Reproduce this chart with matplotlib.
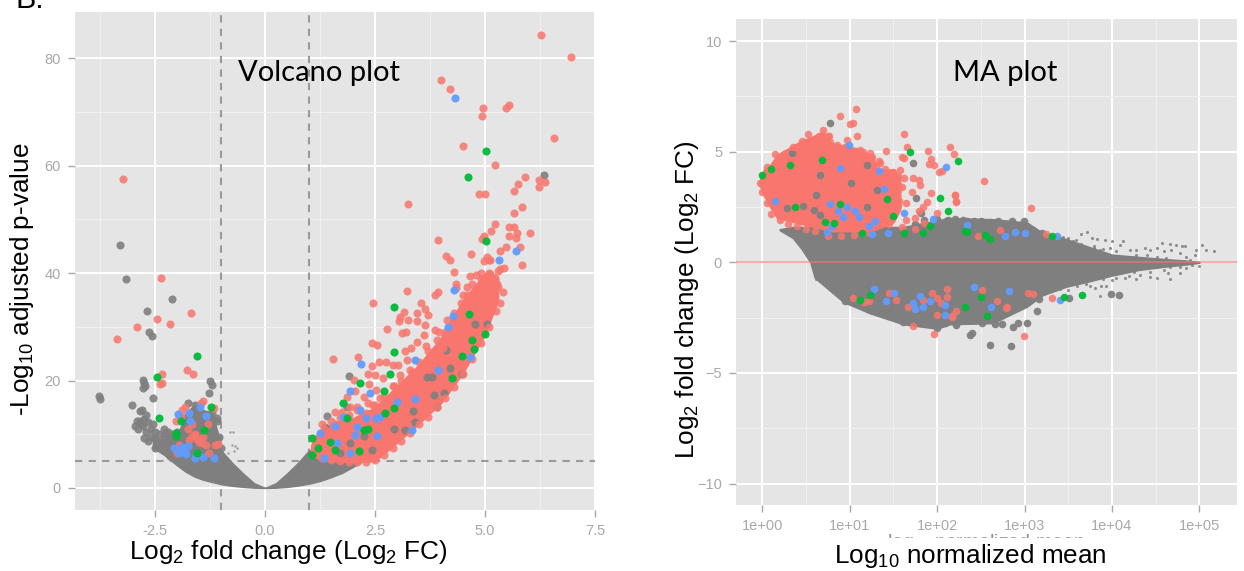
import numpy as np
import matplotlib
matplotlib.use('Agg')
import matplotlib.pyplot as plt
from matplotlib.patches import Rectangle

W, H = 1244, 571
RED = '#F8766D'
GREEN = '#00BA38'
BLUE = '#619CFF'
GREY = '#7F7F7F'
PANEL = '#E5E5E5'
TICK = '#A8A8A8'

plt.rcParams['font.family'] = ['Liberation Sans', 'DejaVu Sans']
plt.rcParams['mathtext.default'] = 'regular'

# volcano: dense clouds as (x, upper, lower)
volcano_grey_x = [-2.55, -2.3, -2.0, -1.8, -1.6, -1.4, -1.2, -1.1, -1.0, -0.75, -0.5, -0.25, 0.0, 0.25, 0.5, 0.75, 1.0, 1.25, 1.5, 1.75, 1.95, 2.2]
volcano_grey_up = [8.5, 9.0, 9.5, 14.0, 15.5, 14.5, 14.0, 11.0, 7.0, 4.7, 2.7, 0.9, 0.0, 0.9, 2.7, 4.7, 7.0, 7.5, 7.5, 7.0, 6.5, 5.5]
volcano_grey_lo = [7.5, 6.2, 4.2, 3.0, 2.1, 1.5, 1.1, 0.9, 0.7, 0.4, 0.2, 0.05, 0.0, 0.05, 0.2, 0.45, 0.8, 1.3, 2.0, 2.8, 3.7, 4.9]
volcano_red_x = [1.05, 1.2, 1.5, 2.0, 2.5, 3.0, 3.5, 4.0, 4.5, 5.0, 5.3]
volcano_red_up = [8.0, 10.5, 12.0, 13.0, 15.0, 19.0, 23.0, 28.0, 35.0, 40.0, 39.0]
volcano_red_lo = [6.0, 5.5, 5.0, 4.8, 5.0, 8.4, 12.0, 15.8, 21.4, 28.5, 35.0]

volcano_red = [
    (6.28, 84.3), (6.96, 80.2), (3.99, 75.9), (4.2, 74.2), (4.96, 70.8), (5.47, 70.8), (5.55, 71.2), (4.93, 69.2),
    (6.57, 65.2), (4.5, 63.7), (5.22, 60.2), (5.91, 57.8), (5.76, 56.6), (6.23, 57.4), (6.36, 57.0), (6.23, 56.1),
    (5.65, 55.2), (4.87, 54.7), (4.99, 54.7), (3.25, 52.9), (5.83, 52.3), (5.67, 51.2), (5.22, 49.2), (5.55, 48.6),
    (5.65, 48.5), (5.14, 47.9), (5.73, 47.4), (6.02, 47.5), (5.55, 46.9), (5.7, 46.5), (4.98, 46.9), (4.94, 46.4),
    (3.94, 46.1), (5.47, 44.9), (5.33, 44.2), (5.8, 44.9), (4.12, 43.2), (4.2, 42.4), (4.68, 43.6), (5.05, 43.0),
    (5.08, 42.5), (4.98, 42.2), (5.12, 42.5), (5.84, 41.5), (5.43, 41.0), (5.33, 40.8), (5.29, 40.4), (4.3, 40.2),
    (4.65, 39.5), (4.8, 39.7), (4.92, 38.9), (5.12, 39.8), (5.15, 39.3), (5.23, 39.0), (5.27, 38.0), (4.9, 37.8),
    (4.35, 38.0), (4.33, 37.2), (4.6, 37.4), (5.0, 37.0), (3.22, 36.7), (3.87, 35.9), (3.94, 36.5), (2.46, 34.4),
    (3.54, 34.4), (3.64, 33.4), (3.16, 32.7), (3.45, 32.5), (3.71, 32.2), (3.07, 31.9), (3.24, 31.3), (3.45, 31.0),
    (3.05, 31.0), (3.64, 30.3), (2.77, 29.5), (3.21, 29.1), (3.11, 28.8), (3.62, 28.5), (3.87, 29.4), (3.96, 29.1),
    (4.13, 31.3), (2.43, 27.0), (2.55, 26.6), (3.45, 27.2), (3.32, 26.1), (3.17, 25.5), (3.66, 26.4), (1.55, 24.1),
    (2.12, 24.4), (2.6, 23.5), (2.75, 23.5), (2.9, 22.9), (3.03, 22.9), (3.22, 23.8), (2.42, 22.7), (2.35, 21.3),
    (2.5, 21.0), (3.07, 21.0), (2.02, 20.1), (2.36, 19.4), (2.68, 20.5), (2.94, 18.9), (2.52, 18.2), (2.24, 16.9),
    (1.86, 16.9), (2.35, 15.8), (2.05, 18.0), (2.61, 16.7), (1.93, 15.0), (1.59, 14.2), (1.74, 14.1), (2.1, 15.1),
    (2.46, 15.4), (4.6, 36.0), (4.75, 35.2), (5.1, 36.0), (5.2, 35.0), (5.34, 34.5), (4.45, 34.5), (4.9, 34.0),
    (5.05, 33.0), (4.3, 31.0), (4.4, 29.0), (4.2, 27.5), (4.05, 26.0), (3.8, 24.5), (3.6, 23.0), (3.35, 21.5),
    (3.2, 19.5), (3.0, 17.0), (2.75, 15.5), (2.6, 14.0), (2.35, 13.0), (2.1, 12.0), (1.85, 12.5), (1.6, 12.0),
    (1.35, 11.0), (3.4, 20.5), (3.7, 23.5), (4.0, 26.5), (2.2, 13.5), (1.45, 10.5), (1.25, 9.5),
    # lower edge of the dense band
    (1.3, 5.6), (1.5, 5.2), (1.7, 5.0), (1.9, 4.8), (2.1, 4.8), (2.3, 4.9), (2.5, 5.2), (2.7, 6.2), (2.9, 7.5),
    (3.1, 8.8), (3.3, 10.2), (3.5, 12.0), (3.7, 13.3), (3.9, 15.0), (4.1, 16.8), (4.3, 18.8), (4.5, 21.2), (4.7, 24.0),
    (4.9, 27.0), (5.1, 30.0), (5.25, 33.0),
    # upper edge of the dense band
    (1.3, 12.0), (1.5, 12.5), (1.7, 13.0), (1.9, 13.5), (2.1, 14.5), (2.3, 14.0), (2.5, 15.5), (2.7, 17.0), (2.9, 19.0),
    (3.1, 20.0), (3.3, 22.0), (3.5, 23.5), (3.7, 25.5), (3.9, 27.5), (4.1, 29.0), (4.3, 32.5), (4.5, 36.0), (4.7, 38.0),
    (4.9, 40.0), (5.1, 40.0), (5.3, 37.5), (5.4, 36.5),
    # negative side
    (-3.23, 57.5), (-2.36, 39.0), (-1.68, 32.6), (-2.45, 31.5), (-2.16, 30.6), (-2.9, 30.0), (-3.36, 27.7),
    (-1.77, 22.0), (-1.64, 21.3), (-2.35, 21.2), (-2.35, 19.5), (-2.38, 19.4), (-1.42, 16.1), (-1.45, 15.8),
    (-1.17, 14.8), (-1.82, 15.1), (-1.89, 14.5), (-1.91, 13.3), (-2.03, 12.4), (-1.59, 9.7), (-1.67, 9.6),
    (-1.4, 9.4), (-1.44, 8.4), (-1.74, 8.9), (-2.0, 6.5), (-1.06, 8.2), (-1.14, 8.0), (-1.27, 6.5),
    (-1.6, 10.0), (-1.55, 9.2), (-1.5, 8.5), (-1.35, 8.0), (-1.75, 11.0), (-1.95, 8.0), (-1.65, 12.0), (-1.3, 12.0),
]
volcano_blue = [
    (4.32, 72.5), (5.32, 42.4), (5.71, 44.1), (4.3, 36.8), (4.28, 32.0), (4.15, 29.9), (3.41, 23.8), (4.66, 24.3),
    (3.94, 22.0), (2.18, 23.0), (1.93, 18.1), (2.39, 17.7), (3.41, 16.5), (3.01, 16.0), (2.16, 14.5), (2.3, 13.0),
    (2.52, 13.0), (2.61, 13.3), (1.78, 13.2), (1.59, 11.6), (1.25, 10.2), (1.63, 8.3), (1.33, 5.5), (2.05, 9.9),
    (3.33, 10.7), (2.54, 9.7), (1.93, 6.6), (2.08, 11.4),
    (-1.49, 15.0), (-1.98, 13.8), (-1.74, 13.9), (-1.34, 13.4), (-1.7, 12.4), (-1.89, 7.6), (-1.79, 6.4),
    (-2.08, 7.5), (-1.4, 5.8), (-1.17, 5.5), (-1.59, 5.5), (-1.85, 7.0), (-1.75, 7.8), (-1.95, 6.5),
]
volcano_green = [
    (5.02, 62.8), (4.61, 57.8), (5.02, 46.0), (2.92, 33.7), (4.64, 32.4), (5.0, 28.7), (2.92, 25.4), (4.74, 25.9),
    (4.47, 24.6), (4.7, 27.5), (2.85, 21.2), (4.25, 20.5), (2.16, 19.5), (2.7, 18.1), (1.78, 15.9), (1.87, 13.0),
    (2.73, 13.9), (2.24, 10.8), (2.35, 10.9), (1.48, 8.6), (1.06, 9.25), (1.21, 7.4), (1.59, 7.1), (1.06, 6.15),
    (2.14, 6.8), (2.92, 14.8),
    (-1.55, 24.6), (-2.45, 20.7), (-1.23, 15.0), (-2.42, 13.0), (-1.92, 12.4), (-1.39, 10.8), (-2.03, 10.2),
    (-2.03, 9.6), (-1.54, 6.5),
]
volcano_dark = [
    (6.33, 58.2), (1.91, 20.8), (1.4, 13.4), (1.86, 15.0), (5.04, 30.6), (4.11, 25.7), (4.78, 30.6), (4.21, 22.3),
    (4.47, 21.3), (3.68, 20.7), (3.79, 20.7), (4.07, 17.6), (3.83, 17.3), (3.9, 15.1), (3.37, 14.4), (2.92, 11.0),
    (2.24, 9.7), (3.18, 10.8), (2.43, 7.1), (1.93, 8.3), (1.36, 11.4), (1.7, 6.5), (3.41, 12.3),
    (-3.3, 45.2), (-3.15, 38.9), (-2.11, 35.2), (-2.69, 32.9), (-2.64, 29.1), (-2.58, 28.3), (-2.77, 20.1),
    (-2.75, 19.5), (-2.77, 18.6), (-2.72, 19.0), (-2.55, 16.8), (-1.25, 19.9), (-1.2, 19.1), (-1.27, 17.6),
    (-3.78, 17.1), (-3.75, 16.5), (-3.02, 15.4), (-2.85, 14.4), (-2.8, 14.5), (-2.85, 12.5), (-2.75, 12.8),
    (-2.65, 12.3), (-2.95, 11.6), (-2.88, 11.0), (-2.78, 11.5), (-2.7, 10.5), (-2.6, 11.0), (-2.75, 9.3),
    (-2.65, 8.8), (-2.5, 9.2), (-2.4, 10.0), (-2.28, 10.3), (-2.2, 9.2), (-2.35, 8.5), (-1.1, 12.5), (-1.15, 10.5),
    (-1.1, 13.0), (-1.2, 14.0), (-1.3, 13.5), (-1.5, 14.5), (-1.6, 15.5), (-1.75, 15.8), (-1.85, 13.0), (-2.0, 10.5),
    (-2.15, 9.5), (-2.3, 9.3), (-2.4, 8.0), (-2.5, 7.5), (-2.3, 7.0), (-2.15, 6.0), (-2.0, 5.2), (-1.85, 4.5),
    (-2.6, 9.5), (-2.5, 10.5), (-2.55, 12.0), (-2.9, 12.5), (-2.7, 13.5), (-2.8, 12.0), (-2.45, 8.8), (-2.3, 11.0),
    (-2.2, 10.5), (-2.1, 10.0), (-1.05, 9.5), (-1.0, 7.5),
]
volcano_tiny = [(-0.8, 10.5), (-0.72, 10.5), (-0.76, 8.0), (-0.68, 7.8), (-0.64, 7.4), (-0.7, 6.8), (-0.85, 6.5)]

# MA plot: x values kept as log10 of the normalised mean
ma_grey_x = [0.2, 0.35, 0.45, 0.55, 0.6, 0.75, 0.93, 1.23, 1.61, 2.0, 2.15, 2.64, 3.03, 3.2, 3.48, 3.7, 4.0, 4.3, 4.6, 4.85, 5.0]
ma_grey_up = [1.5, 1.6, 1.6, 1.6, 1.6, 1.6, 1.6, 1.6, 1.6, 1.9, 2.0, 1.95, 1.8, 1.35, 1.05, 0.75, 0.35, 0.25, 0.15, 0.08, 0.02]
ma_grey_lo = [1.45, 1.1, 0.6, 0.0, -0.7, -1.2, -1.8, -2.3, -2.8, -3.0, -2.8, -2.75, -2.0, -1.5, -1.1, -0.9, -0.6, -0.35, -0.2, -0.1, -0.02]
ma_red_x = [-0.04, 0.02, 0.09, 0.17, 0.43, 0.7, 0.78, 1.08, 1.27, 1.31, 1.5, 1.58]
ma_red_up = [3.6, 4.2, 4.4, 4.86, 5.46, 5.9, 5.4, 5.16, 4.8, 4.2, 4.2, 3.8]
ma_red_lo = [3.6, 3.0, 2.5, 2.0, 1.75, 1.5, 1.4, 1.4, 1.45, 1.5, 1.8, 2.4]

ma_red = [
    (1.07, 6.93), (0.89, 6.6), (1.04, 6.3), (1.0, 6.25), (0.52, 5.8), (1.62, 5.8), (1.66, 5.2), (2.15, 5.2), (1.9, 5.05),
    (2.19, 4.9), (1.62, 4.7), (1.6, 4.78), (1.93, 4.66), (1.91, 4.45), (1.96, 4.4), (2.02, 4.08), (2.06, 4.15),
    (1.42, 5.04), (1.12, 5.09), (1.23, 4.93), (1.73, 3.8), (1.79, 3.73), (1.81, 3.5), (1.71, 3.2), (1.93, 3.13),
    (2.2, 3.05), (2.22, 2.75), (1.88, 2.72), (1.84, 2.52), (1.79, 2.3), (2.0, 2.22), (1.65, 2.67), (1.56, 2.75),
    (1.5, 4.03), (1.58, 4.18), (1.62, 3.8), (1.35, 4.48), (1.08, 5.69), (0.97, 5.54), (0.78, 5.46), (0.76, 5.69),
    (1.33, 4.56), (1.5, 3.43), (1.42, 3.73), (3.07, 2.44), (2.21, 3.05), (2.22, 2.72), (2.54, 3.69), (2.72, 1.47),
    (2.47, 1.17), (3.25, 1.29), (3.31, -1.62), (2.8, -2.0), (2.79, -2.07), (3.1, -1.42), (3.04, -1.4), (2.68, -1.73),
    (2.17, -2.42), (2.51, -1.24), (2.99, -3.35), (1.04, -1.59), (1.16, -1.8), (1.22, -1.73), (1.45, -1.4),
    (1.53, -1.7), (1.94, -1.4), (1.84, -1.7), (1.67, -2.0), (2.11, -1.2), (2.05, -1.85), (2.11, -1.55),
    (2.17, -2.45), (2.22, -2.2), (2.0, -2.4), (1.72, -2.9), (1.97, -3.23), (2.0, -1.62),
    # ragged rim of the dense cloud
    (0.05, 4.3), (0.15, 4.9), (0.25, 4.9), (0.35, 5.2), (0.45, 5.5), (0.55, 5.5), (0.65, 5.7), (0.7, 6.0), (0.75, 5.7),
    (0.85, 5.3), (0.95, 5.2), (1.05, 5.0), (1.15, 5.0), (1.25, 4.75), (1.3, 4.3), (1.4, 4.2), (1.5, 4.1), (1.55, 3.9),
    (1.6, 3.4), (1.5, 3.0), (1.55, 2.6), (1.45, 2.9), (1.4, 2.4), (1.35, 2.0), (1.45, 1.75), (1.6, 1.6), (1.75, 1.5),
    (1.65, 1.9), (1.75, 2.0), (1.85, 1.8), (1.2, 1.35), (1.05, 1.25), (0.9, 1.2), (0.75, 1.2), (0.6, 1.4), (0.5, 1.5),
    (0.4, 1.65), (0.3, 1.75), (0.2, 1.9), (0.1, 2.2), (0.05, 2.7), (0.0, 3.2), (-0.03, 3.6), (0.02, 3.9),
]
ma_green = [
    (1.69, 4.98), (2.24, 4.6), (2.03, 2.91), (2.12, 2.33), (0.68, 4.62), (0.32, 4.38), (0.1, 4.23), (0.0, 3.95),
    (1.43, 2.87), (1.5, 2.1), (2.34, 1.39), (1.84, 1.32), (1.92, 1.62), (1.62, 1.32), (1.14, 1.32), (0.82, 1.77),
    (0.72, 1.84), (0.89, 2.64), (0.38, 2.52), (2.32, 1.4), (2.55, 1.25), (2.61, 1.05), (3.31, 1.2),
    (2.5, -1.55), (3.45, -1.58), (3.66, -1.49), (2.32, -2.03), (2.57, -2.42), (1.23, -1.47), (1.12, -1.7),
]
ma_blue = [
    (0.89, 4.27), (1.34, 4.12), (2.1, 4.32), (1.39, 3.31), (0.78, 2.63), (0.87, 2.33), (0.97, 2.49), (0.92, 2.07),
    (1.06, 2.3), (1.11, 2.04), (0.8, 1.66), (0.74, 1.35), (1.25, 1.29), (1.22, 1.65), (1.95, 1.95), (1.44, 1.32),
    (1.62, 2.22), (0.15, 2.75), (0.99, 5.31), (2.34, 1.7), (1.29, 1.87), (3.37, 1.17), (3.0, 1.32), (2.89, 1.36),
    (2.78, 1.17), (3.41, -1.7), (2.82, -1.29), (2.42, -1.12), (2.62, -2.0), (1.28, -1.2), (1.51, -1.4), (1.42, -1.73),
    (1.81, -1.5), (1.73, -1.85), (1.75, -2.1), (1.84, -2.0), (1.92, -1.77), (2.09, -1.92), (2.09, -2.37),
]
ma_dark = [
    (0.78, 6.31), (1.72, 4.48), (1.76, 2.9), (0.34, 4.93), (0.28, 2.45), (0.47, 2.55), (0.62, 3.05), (0.66, 3.95),
    (1.02, 3.58), (1.2, 4.41), (0.59, 2.37), (1.2, 2.52), (1.31, 3.28), (0.66, 2.15), (1.82, 2.22), (2.13, 1.92),
    (2.34, 1.85), (2.42, 1.89), (2.61, 1.82), (2.7, 1.85), (2.86, 1.89), (2.99, 1.85), (3.2, 1.32),
    (3.51, -1.6), (3.99, -1.42), (4.08, -1.49), (3.14, -2.2), (2.4, -3.2), (2.61, -3.75), (2.85, -3.78), (2.87, -2.93),
    (2.93, -2.72), (3.03, -2.75), (2.22, -2.75), (2.66, -2.8), (2.74, -2.8), (2.51, -2.72), (2.34, -2.45), (3.17, -1.67),
    (0.95, -1.74), (1.23, -2.15), (1.35, -2.18), (1.46, -2.12), (1.61, -2.71), (1.88, -2.53), (2.0, -2.98), (2.09, -2.75),
    (2.22, -2.83), (2.38, -3.28), (1.77, -2.37),
    (1.75, 1.75), (1.85, 1.9), (2.0, 1.95), (2.1, 1.85), (2.2, 1.95), (2.3, 1.9), (2.5, 1.85), (2.8, 1.75), (3.1, 1.45),
]
ma_tiny = [
    (0.62, -0.75), (0.7, -0.87), (0.8, -1.09), (0.89, -1.35),
    (3.71, 1.35), (3.65, 1.29), (3.59, 1.02), (3.77, 1.09), (3.83, 1.05), (3.92, 1.02), (4.0, 0.97), (4.13, 0.97),
    (4.09, 0.79), (3.5, 1.09), (3.44, 1.14), (4.57, 0.87), (4.66, 0.84), (4.73, 0.79), (4.8, 0.75), (4.84, 0.72),
    (5.03, 0.79), (5.07, 0.57), (5.17, 0.52), (4.96, 0.54), (4.95, 0.34), (4.51, 0.64), (4.43, 0.57), (4.38, 0.64),
    (4.28, 0.57), (4.21, 0.57), (4.59, 0.49), (4.68, 0.57), (4.78, 0.42), (4.85, 0.26), (4.89, 0.11), (4.62, 0.19),
    (4.51, 0.26), (4.4, 0.34), (4.28, 0.34), (4.17, 0.26), (4.05, 0.49), (3.98, 0.64), (3.86, 0.57), (3.79, 0.64),
    (3.75, -1.09), (3.81, -1.17), (3.87, -1.06), (3.86, -1.5), (3.93, -1.09), (4.15, -0.72), (4.28, -0.76), (4.43, -0.67),
    (4.51, -0.72), (4.66, -0.76), (4.64, -0.49), (4.78, -0.49), (4.85, -0.26), (4.91, -0.11), (5.0, -0.16), (4.59, -0.34),
    (4.43, -0.42), (4.32, -0.57), (4.2, -0.64), (4.05, -0.72), (4.05, -0.34), (4.2, -0.26), (4.36, -0.19), (4.51, -0.22),
    (4.66, -0.22), (4.78, -0.19), (4.28, 0.11), (4.43, 0.11), (4.62, -0.03), (4.82, 0.04), (4.74, -0.04), (4.93, 0.0),
    (4.13, -0.04), (3.98, -0.26),
    (3.3, 1.2), (3.4, 1.1), (3.55, 0.95), (3.65, 0.85), (3.8, 0.75), (3.9, 0.6), (3.3, -1.3), (3.4, -1.2), (3.5, -1.25),
    (3.6, -1.05), (3.7, -1.0), (3.9, -0.75), (4.0, -0.8), (4.1, -0.5), (4.25, -0.45),
]

volcano_xticks = [-2.5, 0.0, 2.5, 5.0, 7.5]
volcano_yticks = [0, 20, 40, 60, 80]
ma_xticks = [1e0, 1e1, 1e2, 1e3, 1e4, 1e5]
ma_xlabels = ['1e+00', '1e+01', '1e+02', '1e+03', '1e+04', '1e+05']
ma_yticks = [-10, -5, 0, 5, 10]


def px_axes(fig, left, top, right, bottom):
    return fig.add_axes([left / W, 1 - bottom / H, (right - left) / W, (bottom - top) / H])


def style_axes(ax):
    ax.set_facecolor(PANEL)
    for s in ax.spines.values():
        s.set_visible(False)
    ax.set_axisbelow(True)
    ax.grid(True, which='major', color='white', linewidth=1.4)
    ax.grid(True, which='minor', color='#F1F1F1', linewidth=0.7)
    ax.tick_params(which='major', colors=TICK, length=5, width=1, labelsize=10.5, pad=5)
    ax.tick_params(which='minor', length=0)


def dots(ax, pts, color, size=34, alpha=0.85, logx=False, z=3):
    xs = np.array([p[0] for p in pts])
    ys = np.array([p[1] for p in pts])
    if logx:
        xs = 10.0 ** xs
    ax.scatter(xs, ys, s=size, color=color, alpha=alpha, linewidths=0, zorder=z)


fig = plt.figure(figsize=(W / 100, H / 100), dpi=100, facecolor='white')

# volcano plot
ax = px_axes(fig, 75, 12, 595, 510)
style_axes(ax)
ax.set_xlim(-4.32, 7.5)
ax.set_ylim(-4.1, 88.6)
ax.set_xticks(volcano_xticks)
ax.set_xticklabels(['-2.5', '0.0', '2.5', '5.0', '7.5'])
ax.set_yticks(volcano_yticks)
ax.set_xticks([-3.75, -1.25, 1.25, 3.75, 6.25], minor=True)
ax.set_yticks([10, 30, 50, 70], minor=True)
for xv in (-1, 1):
    ax.axvline(xv, color='#9A9A9A', linewidth=1.5, dashes=(3.5, 3), zorder=2)
ax.axhline(5, color='#9A9A9A', linewidth=1.5, dashes=(3.5, 3), zorder=2)
ax.fill_between(volcano_grey_x, volcano_grey_lo, volcano_grey_up, color=GREY, linewidth=1, zorder=2.5)
ax.fill_between(volcano_red_x, volcano_red_lo, volcano_red_up, color=RED, linewidth=1, zorder=2.6)
dots(ax, volcano_tiny, GREY, size=3, alpha=0.7)
dots(ax, volcano_dark, GREY, alpha=0.9)
dots(ax, volcano_red, RED)
dots(ax, volcano_blue, BLUE, alpha=0.95)
dots(ax, volcano_green, GREEN, alpha=0.95)

# MA plot
ax2 = px_axes(fig, 736, 19, 1237, 505)
style_axes(ax2)
ax2.set_xscale('log')
ax2.set_xlim(10 ** -0.3, 10 ** 5.43)
ax2.set_ylim(-10.97, 11.0)
ax2.set_xticks(ma_xticks)
ax2.set_xticklabels(ma_xlabels)
ax2.set_xticks([10 ** (k + 0.5) for k in range(0, 5)], minor=True)
ax2.set_xticklabels([], minor=True)
ax2.set_yticks(ma_yticks)
ax2.set_yticks([-7.5, -2.5, 2.5, 7.5], minor=True)
ax2.fill_between(10.0 ** np.array(ma_grey_x), ma_grey_lo, ma_grey_up, color=GREY, linewidth=1, zorder=2.5)
ax2.fill_between(10.0 ** np.array(ma_red_x), ma_red_lo, ma_red_up, color=RED, linewidth=1, zorder=2.6)
dots(ax2, ma_tiny, GREY, size=5, alpha=0.85, logx=True)
dots(ax2, ma_dark, GREY, size=30, alpha=0.95, logx=True)
dots(ax2, ma_red, RED, size=30, logx=True)
dots(ax2, ma_blue, BLUE, size=30, alpha=0.95, logx=True)
dots(ax2, ma_green, GREEN, size=30, alpha=0.95, logx=True)
ax2.axhline(0, color=RED, linewidth=1.4, alpha=0.6, zorder=4)


def ptext(x, y, s, **kw):
    return fig.text(x / W, 1 - y / H, s, **kw)


ptext(15, 8, 'B.', fontsize=22, color='black', ha='left', va='baseline')
ptext(319, 73, 'Volcano plot', fontsize=21, family=['Lato', 'DejaVu Sans'], ha='center', va='center', color='black')
ptext(1005, 73, 'MA plot', fontsize=21, family=['Lato', 'DejaVu Sans'], ha='center', va='center', color='black')

# original axis title that the pasted label covers, only its top shows
ptext(986, 532, 'log$_{10}$ normalized mean', fontsize=14, color='#8C8C8C', ha='center', va='top', zorder=5)
fig.add_artist(Rectangle((880 / W, 1 - 571 / H), 215 / W, 33 / H, transform=fig.transFigure, color='white', zorder=6))

ptext(288, 552, 'Log$_2$ fold change (Log$_2$ FC)', fontsize=18.8, ha='center', va='center', color='black', zorder=7)
ptext(970, 556, 'Log$_{10}$ normalized mean', fontsize=18.8, ha='center', va='center', color='black', zorder=7)
ptext(22, 279, '-Log$_{10}$ adjusted p-value', fontsize=18.8, rotation=90, ha='center', va='center', color='black')
ptext(687, 300, 'Log$_2$ fold change (Log$_2$ FC)', fontsize=18.8, rotation=90, ha='center', va='center', color='black')

fig.savefig('out.png', dpi=100, facecolor='white')
